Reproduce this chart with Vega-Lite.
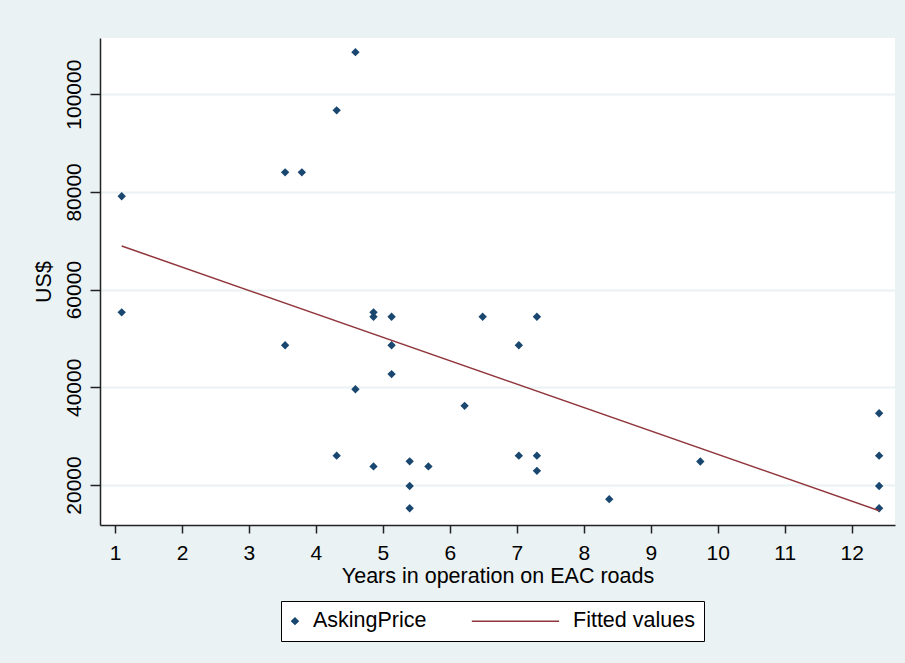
{
  "$schema": "https://vega.github.io/schema/vega-lite/v6.json",
  "width": 795,
  "height": 487,
  "autosize": {"type": "none"},
  "padding": {"left": 100, "top": 38, "right": 10, "bottom": 138},
  "background": "#eaf2f3",
  "config": {
    "view": {"fill": "white", "stroke": null},
    "font": "Liberation Sans",
    "axis": {
      "domainColor": "#222222",
      "domainWidth": 1.5,
      "tickColor": "#222222",
      "tickWidth": 1.5,
      "labelFont": "Liberation Sans",
      "labelFontSize": 21,
      "labelColor": "#000000",
      "titleFont": "Liberation Sans",
      "titleFontSize": 21.5,
      "titleFontWeight": "normal",
      "titleColor": "#000000"
    },
    "axisX": {"tickSize": 8, "grid": false, "labelPadding": 9, "titlePadding": 2},
    "axisY": {"tickSize": 10, "grid": true, "gridColor": "#eaf2f3", "gridWidth": 2, "labelPadding": 10, "titlePadding": 8}
  },
  "datasets": {
    "prices": [
      {"years": 1.10, "price": 79100, "series": "AskingPrice"},
      {"years": 1.10, "price": 55350, "series": "AskingPrice"},
      {"years": 3.54, "price": 84000, "series": "AskingPrice"},
      {"years": 3.79, "price": 84000, "series": "AskingPrice"},
      {"years": 4.31, "price": 96700, "series": "AskingPrice"},
      {"years": 4.59, "price": 108600, "series": "AskingPrice"},
      {"years": 3.54, "price": 48600, "series": "AskingPrice"},
      {"years": 4.86, "price": 55350, "series": "AskingPrice"},
      {"years": 4.86, "price": 54450, "series": "AskingPrice"},
      {"years": 5.13, "price": 54450, "series": "AskingPrice"},
      {"years": 5.13, "price": 48600, "series": "AskingPrice"},
      {"years": 5.13, "price": 42700, "series": "AskingPrice"},
      {"years": 4.59, "price": 39600, "series": "AskingPrice"},
      {"years": 6.49, "price": 54450, "series": "AskingPrice"},
      {"years": 6.22, "price": 36200, "series": "AskingPrice"},
      {"years": 4.31, "price": 26000, "series": "AskingPrice"},
      {"years": 4.86, "price": 23800, "series": "AskingPrice"},
      {"years": 5.40, "price": 24850, "series": "AskingPrice"},
      {"years": 5.40, "price": 19800, "series": "AskingPrice"},
      {"years": 5.40, "price": 15230, "series": "AskingPrice"},
      {"years": 5.68, "price": 23800, "series": "AskingPrice"},
      {"years": 7.03, "price": 26000, "series": "AskingPrice"},
      {"years": 7.30, "price": 26000, "series": "AskingPrice"},
      {"years": 7.30, "price": 22900, "series": "AskingPrice"},
      {"years": 8.38, "price": 17100, "series": "AskingPrice"},
      {"years": 7.03, "price": 48600, "series": "AskingPrice"},
      {"years": 7.30, "price": 54450, "series": "AskingPrice"},
      {"years": 9.74, "price": 24800, "series": "AskingPrice"},
      {"years": 12.41, "price": 34700, "series": "AskingPrice"},
      {"years": 12.41, "price": 26000, "series": "AskingPrice"},
      {"years": 12.41, "price": 19800, "series": "AskingPrice"},
      {"years": 12.41, "price": 15230, "series": "AskingPrice"}
    ],
    "fit": [
      {"years": 1.10, "price": 68925, "series": "Fitted values"},
      {"years": 12.41, "price": 14740, "series": "Fitted values"}
    ]
  },
  "layer": [
    {
      "data": {"name": "prices"},
      "mark": {"type": "point", "filled": true, "size": 70, "opacity": 1},
      "encoding": {
        "x": {
          "field": "years", "type": "quantitative",
          "scale": {"domain": [0.776, 12.647], "nice": false, "zero": false},
          "axis": {"values": [1,2,3,4,5,6,7,8,9,10,11,12], "format": "d", "title": "Years in operation on EAC roads"}
        },
        "y": {
          "field": "price", "type": "quantitative",
          "scale": {"domain": [11812, 111505], "nice": false, "zero": false},
          "axis": {"values": [20000, 40000, 60000, 80000, 100000], "format": "d", "labelAngle": -90, "labelAlign": "center", "labelBaseline": "alphabetic", "title": "US$"}
        },
        "color": {
          "field": "series", "type": "nominal",
          "scale": {"domain": ["AskingPrice", "Fitted values"], "range": ["#1a476f", "#90353b"]},
          "legend": {
            "orient": "none", "legendX": 181, "legendY": 563, "direction": "horizontal",
            "title": null, "strokeColor": "#000000", "fillColor": "#ffffff", "padding": 9,
            "symbolSize": 40, "labelFontSize": 21.5, "labelFont": "Liberation Sans", "labelColor": "#000000",
            "labelOffset": 0, "columnPadding": 41, "symbolOpacity": 1, "symbolStrokeWidth": 1.5,
            "encode": {
              "symbols": {"update": {"x": {"value": 5}, "fill": {"scale": "color", "field": "value"}, "stroke": {"scale": "color", "field": "value"}}},
              "labels": {"update": {"x": {"value": 23}}}
            }
          }
        },
        "shape": {
          "field": "series", "type": "nominal",
          "scale": {"domain": ["AskingPrice", "Fitted values"], "range": ["diamond", "M-26.3,0H1.3"]},
          "legend": {
            "orient": "none", "legendX": 181, "legendY": 563, "direction": "horizontal",
            "title": null, "strokeColor": "#000000", "fillColor": "#ffffff", "padding": 9,
            "symbolSize": 40, "labelFontSize": 21.5, "labelFont": "Liberation Sans", "labelColor": "#000000",
            "labelOffset": 0, "columnPadding": 41, "symbolOpacity": 1, "symbolStrokeWidth": 1.5
          }
        }
      }
    },
    {
      "data": {"name": "fit"},
      "mark": {"type": "line", "strokeWidth": 1.5},
      "encoding": {
        "x": {"field": "years", "type": "quantitative"},
        "y": {"field": "price", "type": "quantitative"},
        "color": {"field": "series", "type": "nominal"}
      }
    }
  ]
}
